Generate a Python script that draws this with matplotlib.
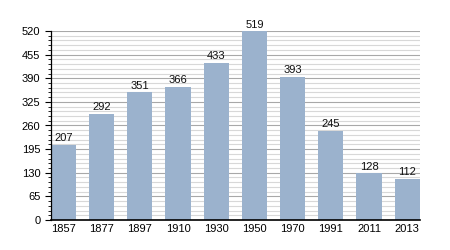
import matplotlib
matplotlib.use("Agg")
import matplotlib.pyplot as plt
from matplotlib.ticker import MultipleLocator

years = ["1857", "1877", "1897", "1910", "1930", "1950", "1970", "1991", "2011", "2013"]
population = [207, 292, 351, 366, 433, 519, 393, 245, 128, 112]
yticks = [0, 65, 130, 195, 260, 325, 390, 455, 520]

plt.rcParams['font.family'] = ['Liberation Sans', 'DejaVu Sans']
fig = plt.figure(figsize=(4.5, 2.5), dpi=100)
ax = fig.add_axes([0.113, 0.12, 0.82, 0.756])

x = list(range(len(years)))
ax.set_axisbelow(True)
ax.yaxis.set_minor_locator(MultipleLocator(13))
ax.grid(which='minor', axis='y', color='#d8d8d8', linewidth=0.8)
ax.grid(which='major', axis='y', color='#a8a8a8', linewidth=0.8)
bars = ax.bar(x, population, width=0.66, color='#9bb2cd')
for xi, v in zip(x, population):
    ax.text(xi, v + 5, str(v), ha='center', va='bottom', fontsize=8, color='#111111')

ax.set_xlim(-0.33, len(years) - 1 + 0.33)
ax.set_ylim(0, 520)
ax.set_yticks(yticks)
ax.set_xticks(x)
ax.set_xticklabels(years)
ax.tick_params(axis='x', length=0, labelsize=8, pad=3)
ax.tick_params(axis='y', which='major', length=4, width=0.8, labelsize=8, direction='out')
ax.tick_params(axis='y', which='minor', length=2, width=0.6, direction='out')
for s in ['top', 'right']:
    ax.spines[s].set_visible(False)
ax.spines['left'].set_linewidth(0.9)
ax.spines['bottom'].set_linewidth(1.2)

fig.savefig("out.png", dpi=100)
